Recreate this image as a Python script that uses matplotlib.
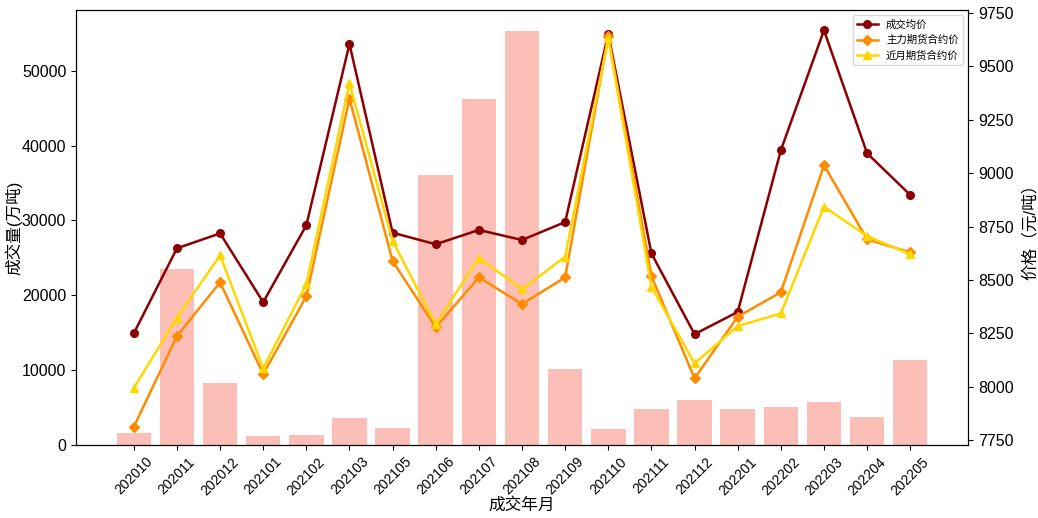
import matplotlib
matplotlib.use('Agg')
import matplotlib.pyplot as plt
import numpy as np

plt.rcParams['font.family'] = ['Liberation Sans', 'Noto Sans CJK SC', 'DejaVu Sans']
plt.rcParams['axes.unicode_minus'] = False

# 数据
months = ['202010', '202011', '202012', '202101', '202102', '202103', '202105',
          '202106', '202107', '202108', '202109', '202110', '202111', '202112',
          '202201', '202202', '202203', '202204', '202205']
volume = [1640, 23530, 8290, 1200, 1340, 3610, 2270, 36100, 46260, 55350,
          10160, 2140, 4810, 6020, 4810, 5080, 5750, 3740, 11360]
avg_price = [8250, 8648, 8718, 8396, 8756, 9605, 8721, 8667, 8734, 8687,
             8771, 9652, 8624, 8246, 8350, 9107, 9669, 9093, 8898]
main_price = [7812, 8237, 8489, 8059, 8423, 9349, 8588, 8278, 8512, 8387,
              8512, 9642, 8518, 8039, 8328, 8442, 9037, 8690, 8629]
near_price = [7994, 8323, 8615, 8086, 8481, 9421, 8683, 8293, 8604, 8456,
              8609, 9631, 8468, 8109, 8284, 8343, 8843, 8705, 8620]

x = np.arange(len(months))

fig, ax1 = plt.subplots(figsize=(10.38, 5.18), dpi=100)
fig.subplots_adjust(left=0.0732, right=0.9326, top=0.9807, bottom=0.1409)

# 成交量柱状图
ax1.bar(x, volume, width=0.8, color='salmon', alpha=0.5)
ax1.set_xticks(x)
ax1.set_xticklabels(months, rotation=45, fontsize=10)
ax1.set_xlabel('成交年月', fontsize=12)
ax1.set_ylabel('成交量(万吨)', fontsize=12)
ax1.tick_params(axis='y', labelsize=11.5)
ax1.yaxis.set_label_coords(-0.06, 0.5)
ax1.xaxis.set_label_coords(0.5, -0.12)

# 价格折线图
ax2 = ax1.twinx()
ax2.plot(x, avg_price, color='darkred', marker='o', markersize=5.5, linewidth=1.8, label='成交均价')
ax2.plot(x, main_price, color='darkorange', marker='D', markersize=5, linewidth=1.8, label='主力期货合约价')
ax2.plot(x, near_price, color='gold', marker='^', markersize=5.5, linewidth=1.8, label='近月期货合约价')
ax2.set_ylim(7727, 9764)
ax2.set_yticks(np.arange(7750, 9751, 250))
ax2.set_ylabel('价格（元/吨）', fontsize=12)
ax2.tick_params(axis='y', labelsize=11.5)
ax2.yaxis.set_label_coords(1.06, 0.5)
ax2.legend(loc='upper right', fontsize=7.5)

plt.savefig('out.png')
